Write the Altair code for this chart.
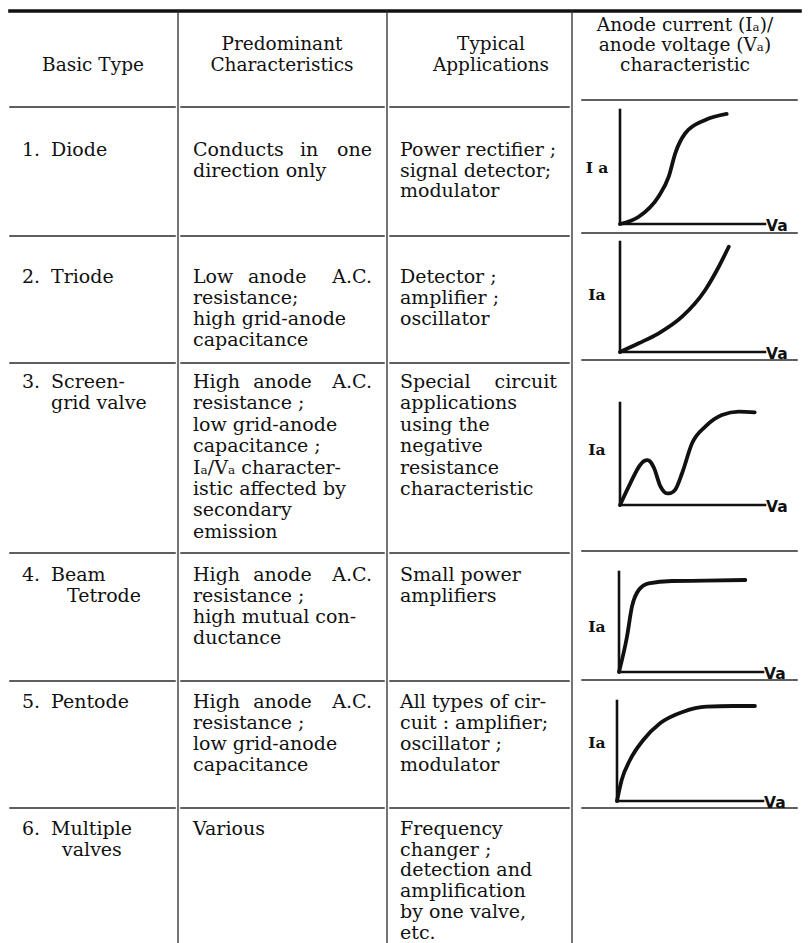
import altair as alt
import pandas as pd

# ---------------- table content ----------------
headers = [
    ["Basic Type"],
    ["Predominant", "Characteristics"],
    ["Typical", "Applications"],
    ["Anode current (Iₐ)/", "anode voltage (Vₐ)", "characteristic"],
]
numbers = ["1.", "2.", "3.", "4.", "5.", "6."]
types = [["Diode"], ["Triode"], ["Screen-", "grid valve"], ["Beam", "Tetrode"],
         ["Pentode"], ["Multiple", "valves"]]
chars = [
    ["Conducts in one", "direction only"],
    ["Low anode A.C.", "resistance;", "high grid-anode", "capacitance"],
    ["High anode A.C.", "resistance ;", "low grid-anode", "capacitance ;",
     "Iₐ/Vₐ character-", "istic affected by", "secondary", "emission"],
    ["High anode A.C.", "resistance ;", "high mutual con-", "ductance"],
    ["High anode A.C.", "resistance ;", "low grid-anode", "capacitance"],
    ["Various"],
]
chars_justified_first = [True, True, True, True, True, False]
apps = [
    ["Power rectifier ;", "signal detector;", "modulator"],
    ["Detector ;", "amplifier ;", "oscillator"],
    ["Special circuit", "applications", "using the", "negative", "resistance",
     "characteristic"],
    ["Small power", "amplifiers"],
    ["All types of cir-", "cuit : amplifier;", "oscillator ;", "modulator"],
    ["Frequency", "changer ;", "detection and", "amplification", "by one valve,",
     "etc."],
]
apps_justified_first = [False, False, True, False, False, False]
ia_labels = ["I a", "Ia", "Ia", "Ia", "Ia"]
va_label = "Va"

# ---------------- Ia / Va characteristic curves (relative units 0-100) -------------
diode_va = [0, 12.9, 26.5, 33.6, 38.1, 45.0, 58.8, 73.6]
diode_ia = [0, 6.4, 24.0, 41.5, 62.0, 79.6, 91.2, 96.5]
triode_va = [0, 12.9, 26.7, 42.8, 58.8, 68.1, 75.0]
triode_ia = [0, 7.9, 17.0, 32.1, 56.4, 77.5, 95.7]
screen_va = [0, 7.1, 14.0, 16.6, 18.8, 21.0, 23.4, 27.8, 30.2, 32.6, 35.2, 38.1, 42.8,
             49.7, 58.8, 70.3, 81.9, 92.9]
screen_ia = [0, 21.3, 39.5, 43.2, 44.0, 42.3, 36.5, 18.5, 13.2, 11.3, 11.8, 15.0, 31.1,
             60.5, 76.8, 88.2, 91.5, 90.9]
tetrode_va = [0, 5.5, 9.0, 13.7, 20.6, 36.8, 59.9, 87.7]
tetrode_ia = [0, 35.0, 65.3, 82.0, 88.7, 91.0, 91.3, 92.0]
pentode_va = [0, 3.2, 8.9, 18.0, 29.5, 45.4, 61.4, 79.7, 94.5]
pentode_ia = [0, 21.0, 41.0, 61.0, 77.7, 89.3, 94.3, 95.0, 95.0]
curves = [(diode_va, diode_ia), (triode_va, triode_ia), (screen_va, screen_ia),
          (tetrode_va, tetrode_ia), (pentode_va, pentode_ia)]

# ---------------- layout (page pixel frame) ----------------
COLS = [178, 387, 572]
TOP_Y = 11
HEAD_BOT = [107, 107, 107, 100]
ROW_SEP = [236, 363, 553, 681, 808]
ROW_SEP4 = [233, 360, 551, 680, 808]
SEG = [(10, 175), (181, 384), (390, 569), (582, 797)]
Y_END = 943
ROW_FIRST = [150, 277, 382, 575, 702, 829]
ROW_LH = [20.6, 21.0, 21.4, 21.0, 21.0, 20.7]
NUM_X, TYPE_X = 22, 51
TYPE_INDENT = [[0], [0], [0, 0], [0, 16], [0], [0, 11]]
C2 = (193, 372)
C3 = (400, 557)
HEAD_X = [93, 282, 491, 685]
HEAD_Y = [[65], [44, 64.5], [44, 64.5], [24.5, 44.5, 64.5]]
ORIGIN = [(620, 224), (620, 352), (620, 505), (619, 672), (617, 801)]
X_END = [765, 765, 765, 763, 763]
Y_TOP = [110, 242, 403, 572, 701]
IA_Y = [168, 295, 450, 627, 743]
IA_X = 597
FS = 19
HFS = 18.5

INK = "#111111"
LINE = "#2a2a2a"

# ---------------- build tables ----------------
rules = []
rules.append(dict(x=10, y=TOP_Y, x2=800, y2=TOP_Y, w=3.6, c=INK))
for cx in COLS:
    rules.append(dict(x=cx, y=TOP_Y, x2=cx, y2=Y_END, w=1.3, c=LINE))
for k, (a, b) in enumerate(SEG):
    rules.append(dict(x=a, y=HEAD_BOT[k], x2=b, y2=HEAD_BOT[k], w=1.5, c=LINE))
for r in range(len(ROW_SEP)):
    for k, (a, b) in enumerate(SEG):
        yy = ROW_SEP4[r] if k == 3 else ROW_SEP[r]
        rules.append(dict(x=a, y=yy, x2=b, y2=yy, w=1.5, c=LINE))
for (x0, y0), xe, yt in zip(ORIGIN, X_END, Y_TOP):
    rules.append(dict(x=x0, y=yt, x2=x0, y2=y0, w=2.6, c=INK))
    rules.append(dict(x=x0, y=y0, x2=xe, y2=y0, w=2.6, c=INK))
rules_df = pd.DataFrame(rules)

curve_rows = []
for ci, ((va, ia), (x0, y0), xe, yt) in enumerate(zip(curves, ORIGIN, X_END, Y_TOP)):
    L, H = xe - x0, y0 - yt
    for i, (v, a) in enumerate(zip(va, ia)):
        curve_rows.append(dict(curve=ci, i=i, x=x0 + v / 100 * L, y=y0 - a / 100 * H))
curve_df = pd.DataFrame(curve_rows)

left_t, right_t, center_t, head_t = [], [], [], []


def justify(line, xl, xr, y):
    words = line.split(" ")
    cw = 0.56 * FS
    widths = [len(w) * cw for w in words]
    gap = (xr - xl - sum(widths)) / (len(words) - 1)
    left_t.append(dict(x=xl, y=y, t=words[0]))
    right_t.append(dict(x=xr, y=y, t=words[-1]))
    pos = xl + widths[0] + gap
    for w, wd in zip(words[1:-1], widths[1:-1]):
        center_t.append(dict(x=pos + wd / 2, y=y, t=w))
        pos += wd + gap


for hx, hl, hy in zip(HEAD_X, headers, HEAD_Y):
    for line, y in zip(hl, hy):
        head_t.append(dict(x=hx, y=y, t=line))

for r in range(6):
    y0 = ROW_FIRST[r]
    lh = ROW_LH[r]
    left_t.append(dict(x=NUM_X, y=y0, t=numbers[r]))
    for j, line in enumerate(types[r]):
        left_t.append(dict(x=TYPE_X + TYPE_INDENT[r][j], y=y0 + j * lh, t=line))
    for j, line in enumerate(chars[r]):
        if j == 0 and chars_justified_first[r]:
            justify(line, C2[0], C2[1], y0)
        else:
            left_t.append(dict(x=C2[0], y=y0 + j * lh, t=line))
    for j, line in enumerate(apps[r]):
        if j == 0 and apps_justified_first[r]:
            justify(line, C3[0], C3[1], y0)
        else:
            left_t.append(dict(x=C3[0], y=y0 + j * lh, t=line))

ia_df = pd.DataFrame([dict(x=IA_X, y=y, t=t) for y, t in zip(IA_Y, ia_labels)])
va_df = pd.DataFrame([dict(x=xe + 1, y=y0 + 2, t=va_label) for (x0, y0), xe in zip(ORIGIN, X_END)])

# ---------------- chart ----------------
xs = alt.Scale(domain=[8, 802], nice=False, zero=False)
ys = alt.Scale(domain=[8, 943], nice=False, zero=False, reverse=True)
X = alt.X("x:Q", scale=xs, axis=None)
Y = alt.Y("y:Q", scale=ys, axis=None)

rule_layer = alt.Chart(rules_df).mark_rule(strokeCap="square").encode(
    x=X, y=Y, x2="x2:Q", y2="y2:Q",
    strokeWidth=alt.StrokeWidth("w:Q", scale=None),
    color=alt.Color("c:N", scale=None),
)
curve_layer = alt.Chart(curve_df).mark_line(
    interpolate="monotone", strokeWidth=3.8, strokeCap="round", strokeJoin="round",
    color=INK
).encode(x=X, y=Y, detail="curve:N", order="i:Q")


def text_layer(df, align, font="DejaVu Serif", size=FS, weight="normal"):
    return alt.Chart(pd.DataFrame(df)).mark_text(
        align=align, baseline="middle", font=font, fontSize=size,
        fontWeight=weight, color=INK
    ).encode(x=X, y=Y, text="t:N")


chart = alt.layer(
    rule_layer,
    curve_layer,
    text_layer(head_t, "center", size=HFS),
    text_layer(left_t, "left"),
    text_layer(right_t, "right"),
    text_layer(center_t, "center"),
    text_layer(ia_df, "center", size=15.5, weight="bold"),
    text_layer(va_df, "left", font="DejaVu Sans", size=15.5, weight="bold"),
).properties(
    width=794, height=935,
    autosize=alt.AutoSizeParams(type="none"),
    padding=0,
    background="white",
).configure_view(stroke=None)

chart.save("out.html", embed_options={"renderer": "svg", "actions": False})
